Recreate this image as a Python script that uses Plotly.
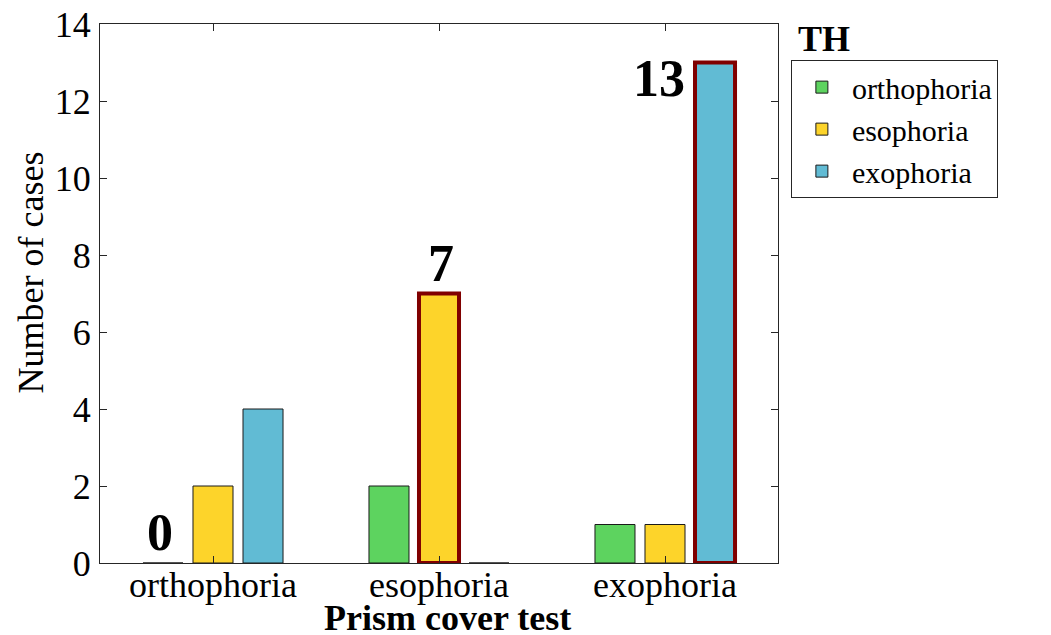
import plotly.graph_objects as go

# Prism cover test result (x) vs TH result (series)
categories = ["orthophoria", "esophoria", "exophoria"]
th_orthophoria = [0, 2, 1]
th_esophoria = [2, 7, 1]
th_exophoria = [4, 0, 13]
series_names = ["orthophoria", "esophoria", "exophoria"]
colors = ["#5dd35f", "#fdd42a", "#61bbd4"]
y_ticks = [0, 2, 4, 6, 8, 10, 12, 14]

FONT = "Liberation Serif, Times New Roman, serif"
HILITE = "#800000"

series = [th_orthophoria, th_esophoria, th_exophoria]

fig = go.Figure()
for k, (name, vals, col) in enumerate(zip(series_names, series, colors)):
    fig.add_trace(go.Bar(
        x=categories, y=vals, name=name, offsetgroup=str(k),
        marker=dict(color=col, line=dict(color="#1a1a1a", width=1)),
    ))

# dark red frame over the matching case (same result in both tests)
matches = [series[i][i] for i in range(len(categories))]
for k, name in enumerate(series_names):
    frame = [series[k][i] if (i == k and series[k][i] > 0) else None
             for i in range(len(categories))]
    fig.add_trace(go.Bar(
        x=categories, y=frame, offsetgroup=str(k), showlegend=False,
        hoverinfo="skip",
        marker=dict(color="rgba(0,0,0,0)", line=dict(color=HILITE, width=4)),
    ))

# value labels for the matching cases
label_pos = [
    dict(xshift=-53, yshift=0, yanchor="bottom"),
    dict(xshift=2, yshift=0, yanchor="bottom"),
    dict(xshift=-6, yshift=-16, yanchor="middle"),
]
for cat, val, pos in zip(categories, matches, label_pos):
    fig.add_annotation(
        x=cat, y=val, text=f"<b>{val}</b>", showarrow=False,
        xanchor="center", font=dict(family=FONT, size=52, color="black"),
        **pos,
    )

# legend title sits above the legend box
fig.add_annotation(
    x=1.026, y=1.0, xref="paper", yref="paper", xanchor="left", yanchor="middle",
    text="<b>TH</b>", showarrow=False, font=dict(family=FONT, size=36, color="black"),
    yshift=-15,
)

# axis titles
fig.add_annotation(
    x=0.5, y=0, xref="paper", yref="paper", xanchor="center", yanchor="middle",
    xshift=8, yshift=-55, showarrow=False,
    text="<b>Prism cover test</b>", font=dict(family=FONT, size=36, color="black"),
)
fig.add_annotation(
    x=0, y=0.5, xref="paper", yref="paper", xanchor="center", yanchor="middle",
    xshift=-70, yshift=21, textangle=-90, showarrow=False,
    text="Number of cases", font=dict(family=FONT, size=36, color="black"),
)

axis_common = dict(
    showline=True, linecolor="#262626", linewidth=1, mirror="ticks",
    ticks="inside", ticklen=7, tickcolor="#262626",
    showgrid=False, zeroline=False, ticklabeloverflow="allow",
    tickfont=dict(family=FONT, size=36, color="black"),
)

fig.update_xaxes(**axis_common, range=[-0.5, 2.5], ticklabelstandoff=-10)
fig.update_yaxes(**axis_common, range=[0, 14], tickvals=y_ticks, ticklabelstandoff=1)

fig.update_layout(
    width=1043, height=627,
    margin=dict(l=92, r=273, t=16, b=72, autoexpand=False),
    barmode="group", bargap=0.336, bargroupgap=0.2,
    plot_bgcolor="white", paper_bgcolor="white",
    font=dict(family=FONT, color="black"),
    legend=dict(
        x=1.019, y=0.933, xanchor="left", yanchor="top",
        bordercolor="#262626", borderwidth=1,
        font=dict(family=FONT, size=30, color="black"),
        tracegroupgap=0, itemwidth=50,
    ),
)

fig.write_html("out.html")
